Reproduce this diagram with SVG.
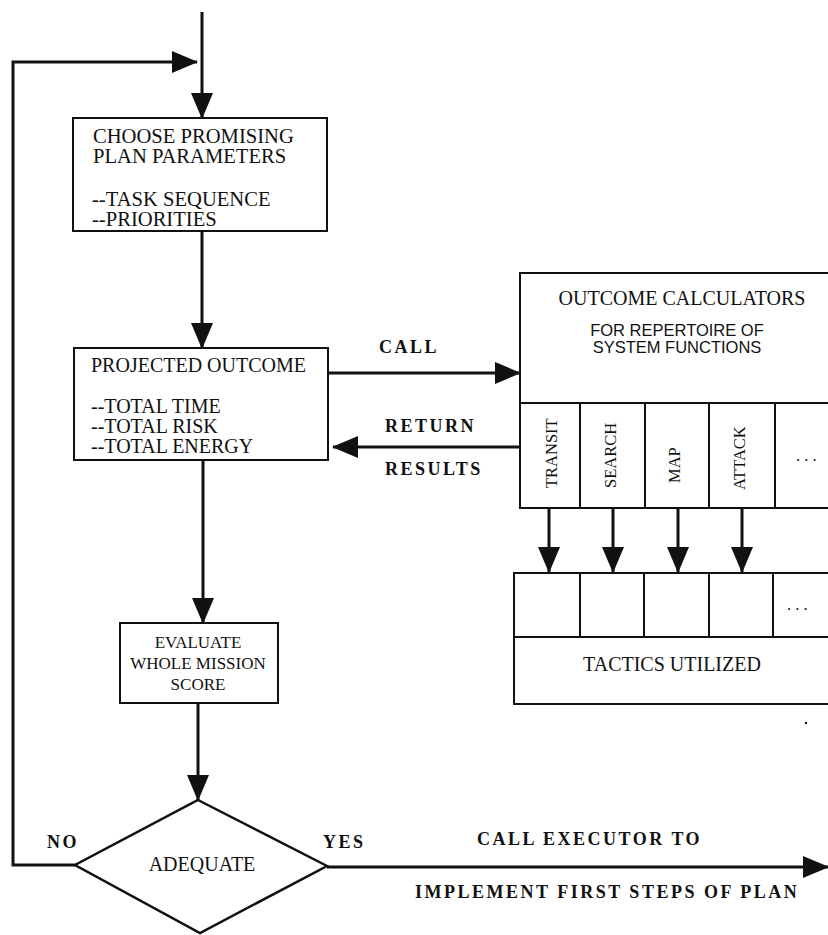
<svg xmlns="http://www.w3.org/2000/svg" width="828" height="935" viewBox="0 0 828 935">
  <style>
    .box { fill: #fff; stroke: #111; stroke-width: 2; }
    .div { stroke: #111; stroke-width: 2; fill: none; }
    .wire { stroke: #111; stroke-width: 3; fill: none; }
    .t { font-family: "Liberation Serif", "Times New Roman", serif; font-size: 20px; fill: #111; }
    .tb { font-size: 20.6px; }
    .ts { font-family: "Liberation Sans", Arial, sans-serif; font-size: 16.5px; fill: #111; }
    .tv { font-family: "Liberation Serif", "Times New Roman", serif; font-size: 16.5px; fill: #111; }
    .tm { font-family: "Liberation Serif", "Times New Roman", serif; font-size: 17px; fill: #111; }
    .lbl { font-family: "Liberation Serif", "Times New Roman", serif; font-size: 18px; font-weight: bold; letter-spacing: 2.5px; fill: #111; }
    .c { text-anchor: middle; }
  </style>
  <defs>
    <marker id="head" markerUnits="userSpaceOnUse" markerWidth="26" markerHeight="22" viewBox="0 0 26 22" refX="25" refY="11" orient="auto">
      <path d="M0,0 L26,11 L0,22 z" fill="#111"/>
    </marker>
  </defs>

  <rect width="828" height="935" fill="#fff"/>

  <!-- connectors -->
  <g id="connectors">
    <line class="wire" x1="202" y1="12" x2="202" y2="118" marker-end="url(#head)"/>
    <polyline class="wire" points="75,865 13,865 13,62 197,62" marker-end="url(#head)"/>
    <line class="wire" x1="202" y1="231" x2="202" y2="348" marker-end="url(#head)"/>
    <line class="wire" x1="328" y1="373" x2="520" y2="373" marker-end="url(#head)"/>
    <line class="wire" x1="520" y1="447" x2="333" y2="447" marker-end="url(#head)"/>
    <line class="wire" x1="203" y1="460" x2="203" y2="623" marker-end="url(#head)"/>
    <line class="wire" x1="198" y1="703" x2="198" y2="800" marker-end="url(#head)"/>
    <line class="wire" x1="327" y1="867" x2="828" y2="867" marker-end="url(#head)"/>
    <line class="wire" x1="549" y1="508" x2="549" y2="572" marker-end="url(#head)"/>
    <line class="wire" x1="613" y1="508" x2="613" y2="572" marker-end="url(#head)"/>
    <line class="wire" x1="678" y1="508" x2="678" y2="572" marker-end="url(#head)"/>
    <line class="wire" x1="742" y1="508" x2="742" y2="572" marker-end="url(#head)"/>
  </g>

  <!-- edge labels -->
  <g id="edge-labels">
    <text class="lbl" x="379" y="353">CALL</text>
    <text class="lbl" x="385" y="432">RETURN</text>
    <text class="lbl" x="385" y="475">RESULTS</text>
    <text class="lbl" x="47" y="848">NO</text>
    <text class="lbl" x="323" y="848">YES</text>
    <text class="lbl" x="477" y="845">CALL EXECUTOR TO</text>
    <text class="lbl" x="415" y="898">IMPLEMENT FIRST STEPS OF PLAN</text>
  </g>

  <!-- plan parameter selection -->
  <g id="choose">
    <rect class="box" x="73" y="118" width="254" height="113"/>
    <text class="t tb" x="93" y="143">CHOOSE PROMISING</text>
    <text class="t tb" x="93" y="163">PLAN PARAMETERS</text>
    <text class="t tb" x="92" y="206">--TASK SEQUENCE</text>
    <text class="t tb" x="92" y="226">--PRIORITIES</text>
  </g>

  <!-- projected outcome -->
  <g id="projected">
    <rect class="box" x="74" y="348" width="254" height="112"/>
    <text class="t" x="91" y="372">PROJECTED OUTCOME</text>
    <text class="t" x="91" y="413">--TOTAL TIME</text>
    <text class="t" x="91" y="433">--TOTAL RISK</text>
    <text class="t" x="91" y="453">--TOTAL ENERGY</text>
  </g>

  <!-- outcome calculators with function columns -->
  <g id="calculators">
    <rect class="box" x="520" y="273" width="320" height="235"/>
    <line class="div" x1="520" y1="403" x2="840" y2="403"/>
    <line class="div" x1="580" y1="403" x2="580" y2="508"/>
    <line class="div" x1="645" y1="403" x2="645" y2="508"/>
    <line class="div" x1="709" y1="403" x2="709" y2="508"/>
    <line class="div" x1="775" y1="403" x2="775" y2="508"/>
    <text class="t c" x="682" y="305">OUTCOME CALCULATORS</text>
    <text class="ts c" x="677" y="336">FOR REPERTOIRE OF</text>
    <text class="ts c" x="677" y="353">SYSTEM FUNCTIONS</text>
    <text class="tv" transform="translate(557,488) rotate(-90)">TRANSIT</text>
    <text class="tv" transform="translate(616,488) rotate(-90)">SEARCH</text>
    <text class="tv" transform="translate(680,483) rotate(-90)">MAP</text>
    <text class="tv" transform="translate(745,490) rotate(-90)">ATTACK</text>
    <text class="tv" x="796" y="461">. . .</text>
  </g>

  <!-- tactics utilized -->
  <g id="tactics">
    <rect class="box" x="514" y="573" width="326" height="131"/>
    <line class="div" x1="514" y1="637" x2="840" y2="637"/>
    <line class="div" x1="580" y1="573" x2="580" y2="637"/>
    <line class="div" x1="644" y1="573" x2="644" y2="637"/>
    <line class="div" x1="709" y1="573" x2="709" y2="637"/>
    <line class="div" x1="773" y1="573" x2="773" y2="637"/>
    <text class="tv" x="787" y="610">. . .</text>
    <text class="t c" x="672" y="671">TACTICS UTILIZED</text>
  </g>

  <!-- mission evaluation -->
  <g id="evaluate">
    <rect class="box" x="120" y="623" width="158" height="80"/>
    <text class="tm c" x="198" y="648">EVALUATE</text>
    <text class="tm c" x="198" y="669">WHOLE MISSION</text>
    <text class="tm c" x="198" y="690">SCORE</text>
  </g>

  <!-- decision -->
  <g id="adequate">
    <polygon points="198,800 327,866 200,933 75,865" fill="#fff" stroke="#111" stroke-width="2.5"/>
    <text class="t c" x="202" y="871">ADEQUATE</text>
  </g>

  <circle cx="806" cy="723" r="1.2" fill="#111"/>
</svg>
